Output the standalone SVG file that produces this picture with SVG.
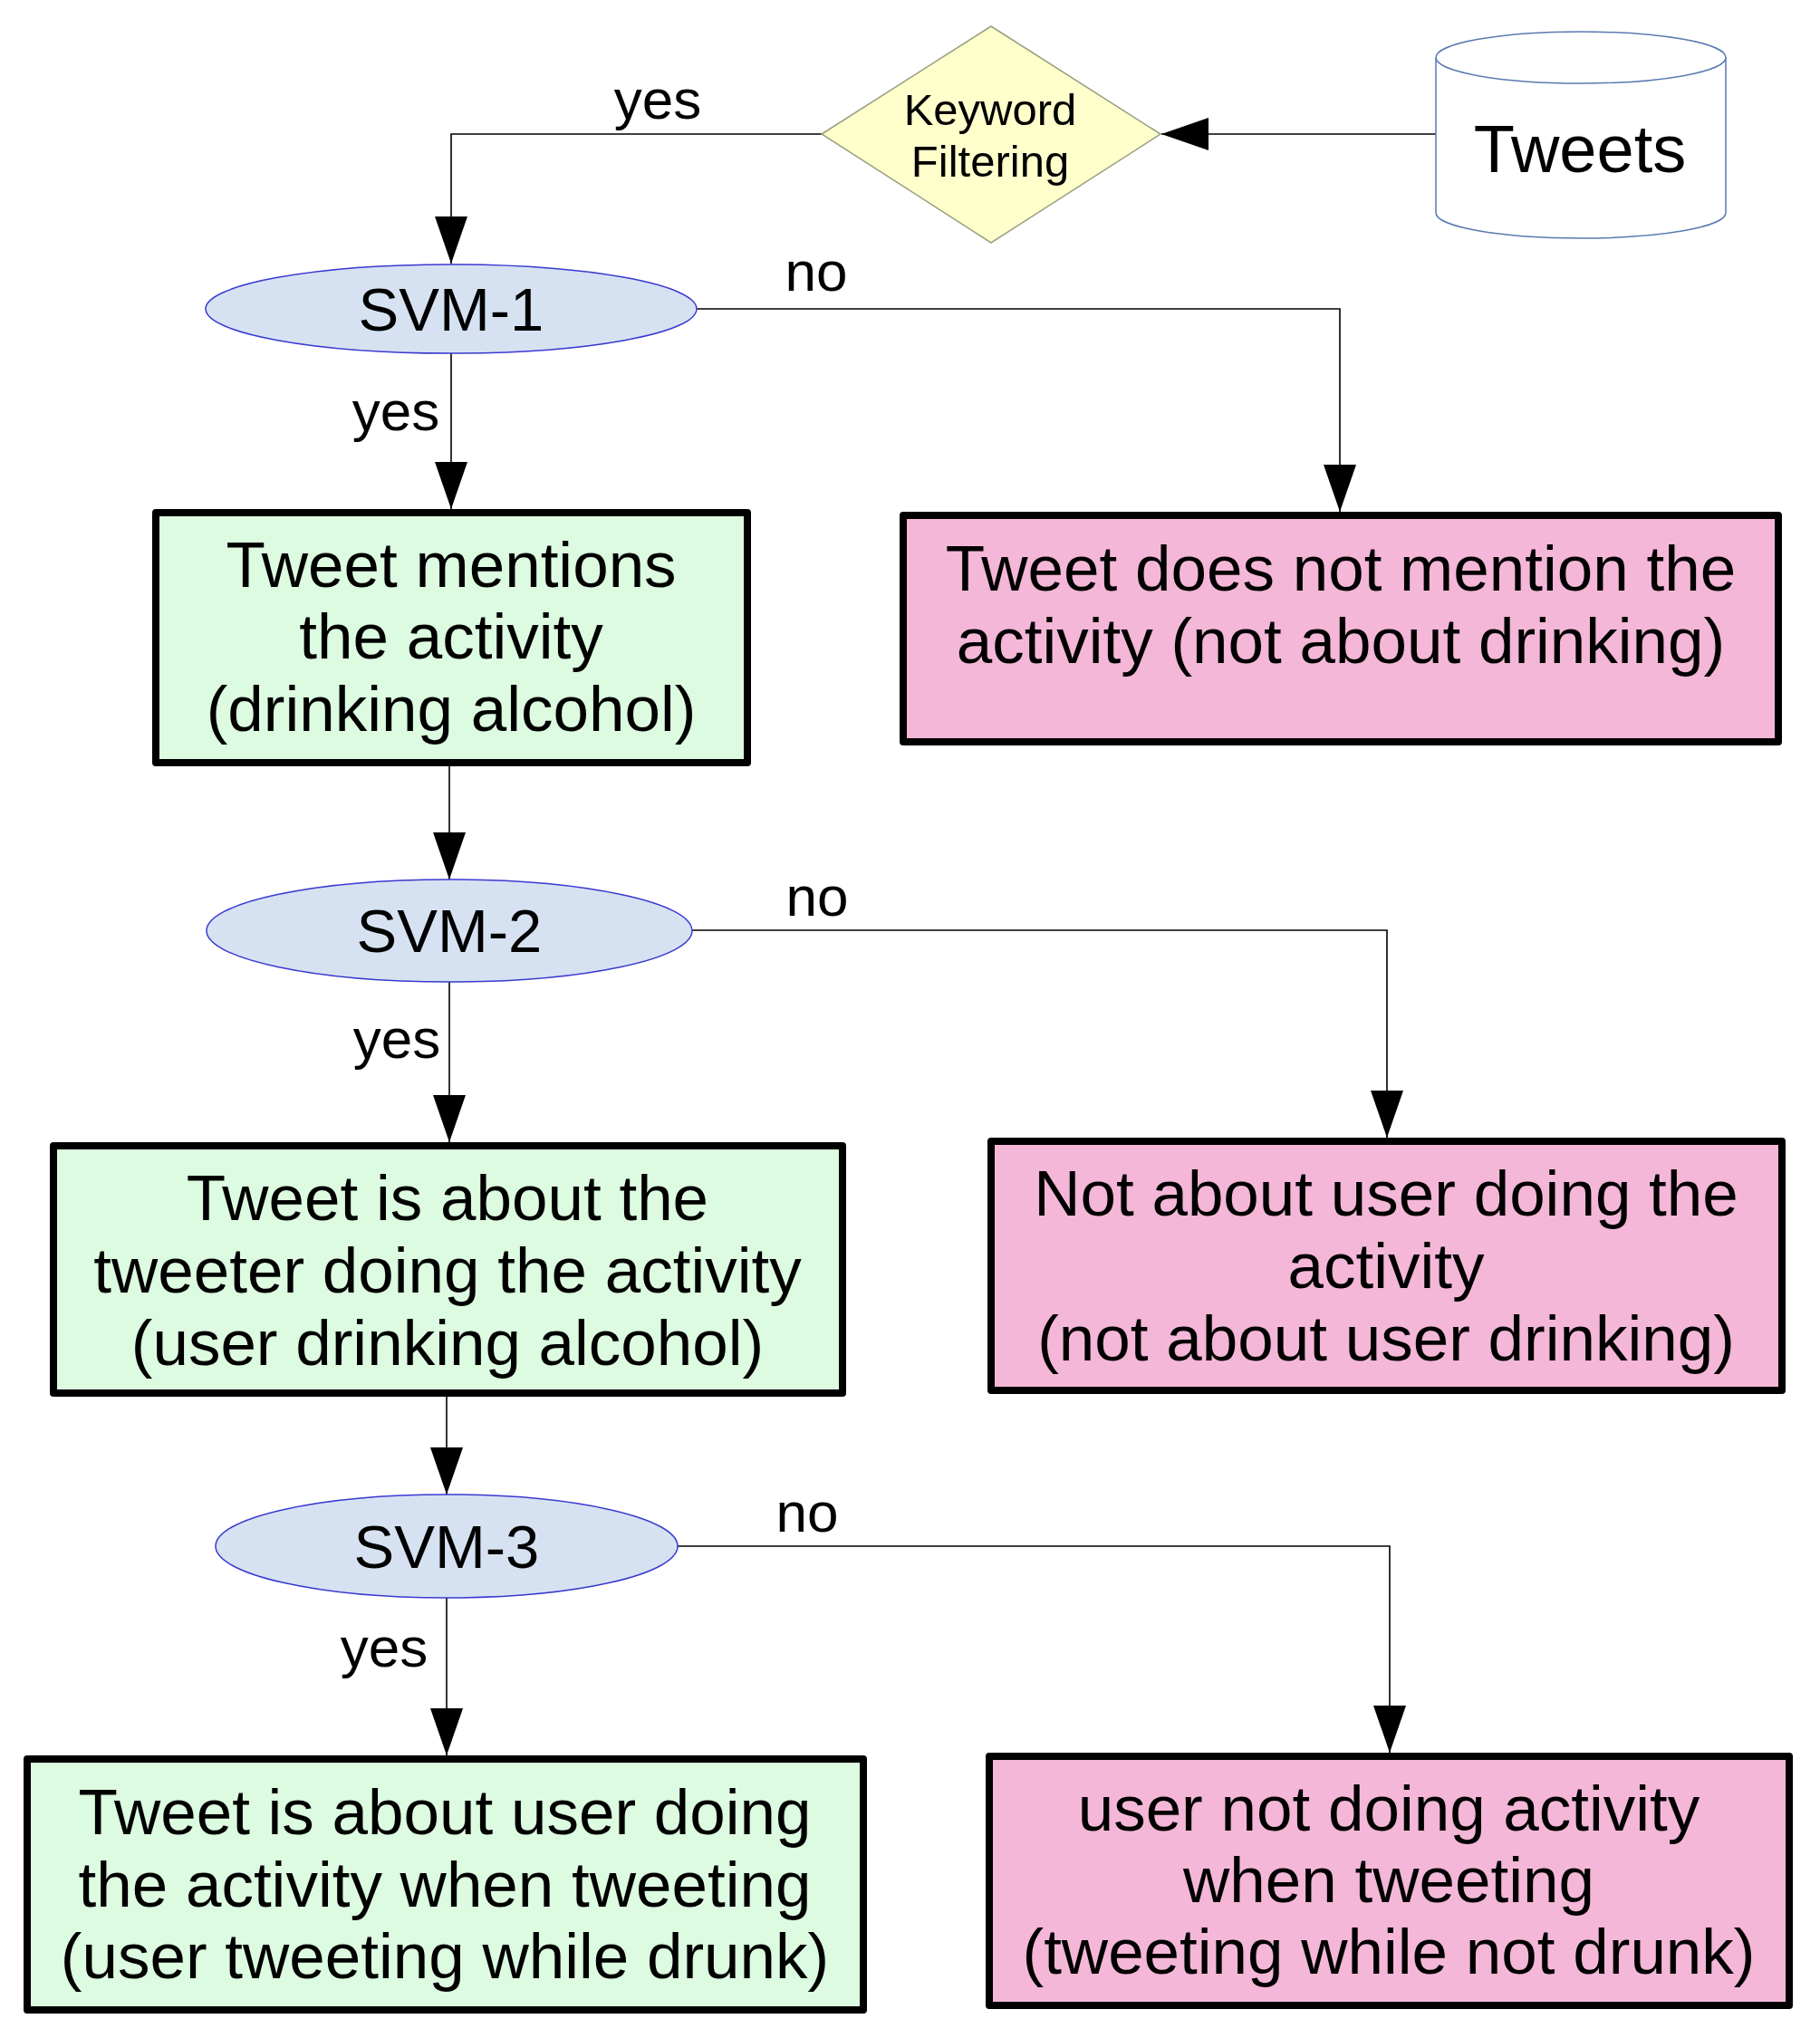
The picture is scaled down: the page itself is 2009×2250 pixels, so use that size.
<svg xmlns="http://www.w3.org/2000/svg" width="2009" height="2250" viewBox="0 0 2009 2250">
<style>
text{font-family:"Liberation Sans",Arial,sans-serif;fill:#000;text-anchor:middle}
.box{font-size:71px}
.svm{font-size:67px}
.lbl{font-size:62px}
.green{fill:#dcfbe0;stroke:#000;stroke-width:8;stroke-linejoin:round}
.pink{fill:#f4b7d7;stroke:#000;stroke-width:8;stroke-linejoin:round}
.ell{fill:#d6e2f2;stroke:#3a3ad0;stroke-width:1.5}
.conn{fill:none;stroke:#000;stroke-width:1.6;marker-end:url(#arr)}
</style>
<defs>
<marker id="arr" markerUnits="userSpaceOnUse" markerWidth="52" markerHeight="36" refX="52" refY="18" orient="auto">
<polygon points="0,0 52,18 0,36" fill="#000"/>
</marker>
</defs>
<rect width="2009" height="2250" fill="#fff"/>

<g id="connectors">
<path class="conn" d="M1585,148 H1282"/>
<path class="conn" d="M907,148 H498 V291"/>
<path class="conn" d="M769,341 H1479 V565"/>
<path class="conn" d="M498,390 V562"/>
<path class="conn" d="M496,846 V971"/>
<path class="conn" d="M764,1027 H1531 V1256"/>
<path class="conn" d="M496,1084 V1261"/>
<path class="conn" d="M493,1542 V1650"/>
<path class="conn" d="M748,1707 H1534 V1935"/>
<path class="conn" d="M493,1764 V1938"/>
<text class="lbl" x="726" y="131">yes</text>
<text class="lbl" x="901" y="321">no</text>
<text class="lbl" x="437" y="475">yes</text>
<text class="lbl" x="902" y="1011">no</text>
<text class="lbl" x="438" y="1168">yes</text>
<text class="lbl" x="891" y="1691">no</text>
<text class="lbl" x="424" y="1840">yes</text>
</g>

<g id="tweets">
<path d="M1585,63.5 A160,28.5 0 0 1 1905,63.5 V235 A160,28 0 0 1 1585,235 Z" fill="#fff" stroke="#5a7ab0" stroke-width="1.5"/>
<path d="M1585,63.5 A160,28.5 0 0 0 1905,63.5" fill="none" stroke="#5a7ab0" stroke-width="1.5"/>
<text x="1744" y="190" font-size="74">Tweets</text>
</g>

<g id="keyword">
<polygon points="907,148 1094,29 1281,148 1094,268" fill="#ffffcc" stroke="#9aa080" stroke-width="1.5"/>
<text x="1093" y="138" font-size="49">Keyword</text>
<text x="1093" y="195" font-size="49">Filtering</text>
</g>

<g id="svm1">
<ellipse class="ell" cx="498" cy="341" rx="271" ry="49"/>
<text class="svm" x="498" y="365">SVM-1</text>
</g>

<g id="mentions">
<rect class="green" x="172" y="566" width="653" height="276"/>
<text class="box" x="498" y="648">Tweet mentions</text>
<text class="box" x="498" y="727">the activity</text>
<text class="box" x="498" y="807">(drinking alcohol)</text>
</g>

<g id="notmention">
<rect class="pink" x="997" y="569" width="966" height="250"/>
<text class="box" x="1480" y="652">Tweet does not mention the</text>
<text class="box" x="1480" y="732">activity (not about drinking)</text>
</g>

<g id="svm2">
<ellipse class="ell" cx="496" cy="1027.5" rx="268" ry="56.5"/>
<text class="svm" x="496" y="1051">SVM-2</text>
</g>

<g id="aboutuser">
<rect class="green" x="59" y="1265" width="871" height="273"/>
<text class="box" x="494" y="1347">Tweet is about the</text>
<text class="box" x="494" y="1427">tweeter doing the activity</text>
<text class="box" x="494" y="1507">(user drinking alcohol)</text>
</g>

<g id="notaboutuser">
<rect class="pink" x="1094" y="1260" width="873" height="275"/>
<text class="box" x="1530" y="1342">Not about user doing the</text>
<text class="box" x="1530" y="1422">activity</text>
<text class="box" x="1530" y="1502">(not about user drinking)</text>
</g>

<g id="svm3">
<ellipse class="ell" cx="493" cy="1707" rx="255" ry="57"/>
<text class="svm" x="493" y="1731">SVM-3</text>
</g>

<g id="drunk">
<rect class="green" x="30" y="1942" width="923" height="277"/>
<text class="box" x="491" y="2025">Tweet is about user doing</text>
<text class="box" x="491" y="2105">the activity when tweeting</text>
<text class="box" x="491" y="2184">(user tweeting while drunk)</text>
</g>

<g id="notdrunk">
<rect class="pink" x="1092" y="1939" width="883" height="275"/>
<text class="box" x="1533" y="2021">user not doing activity</text>
<text class="box" x="1533" y="2100">when tweeting</text>
<text class="box" x="1533" y="2179">(tweeting while not drunk)</text>
</g>
</svg>
